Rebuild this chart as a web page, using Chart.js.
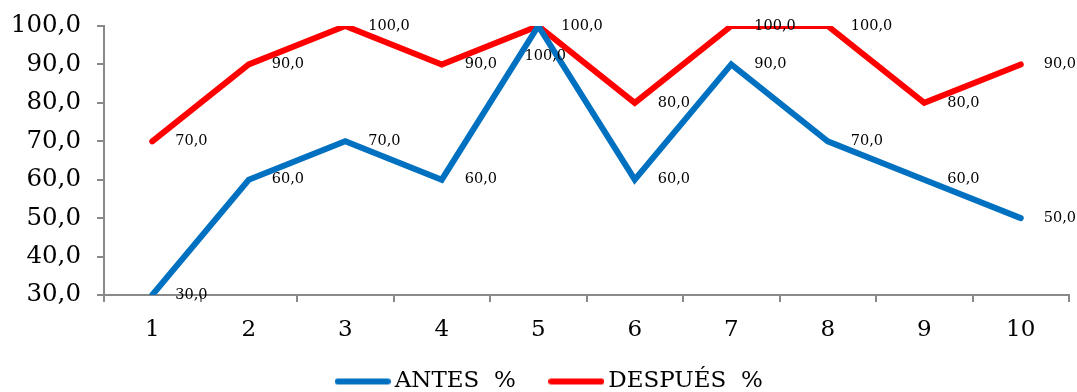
<!DOCTYPE html>
<html>
<head>
<meta charset="utf-8">
<script src="https://cdn.jsdelivr.net/npm/chart.js@4/dist/chart.umd.min.js"></script>
<style>
  html, body { margin: 0; padding: 0; background: #ffffff; }
  #chartDiv { width: 1077px; height: 392px; }
</style>
</head>
<body>
<div id="chartDiv"><canvas id="myChart"></canvas></div>
<script>
// DATA
var x_axis_labels = ['1', '2', '3', '4', '5', '6', '7', '8', '9', '10'];
var label_antes   = 'ANTES  %';
var label_despues = 'DESPUÉS  %';
var data_antes    = [30, 60, 70, 60, 100, 60, 90, 70, 60, 50];
var data_despues  = [70, 90, 100, 90, 100, 80, 100, 100, 80, 90];

var color_antes   = '#0070C0';
var color_despues = '#FF0000';
var axisColor = '#898989';
var serif = "'DejaVu Serif', serif";

function formatComma(v){
    return v.toFixed(1).replace('.', ',');
}

// small canvas with a thick rounded line, used as legend symbol
function legendLine(color){
    var c = document.createElement('canvas');
    c.width = 56;
    c.height = 10;
    var g = c.getContext('2d');
    g.strokeStyle = color;
    g.lineWidth = 6;
    g.lineCap = 'round';
    g.beginPath();
    g.moveTo(3, 5);
    g.lineTo(53, 5);
    g.stroke();
    return c;
}
var legendImages = [legendLine(color_antes), legendLine(color_despues)];

var pointLabels = {
    id: 'pointLabels',
    beforeInit: function(chart){
        // fixed legend height
        var origFit = chart.legend.fit;
        chart.legend.fit = function(){
            origFit.call(this);
            this.height = 47;
        };
    },
    afterLayout: function(chart){
        // push the legend under the axis labels, a bit to the right
        // (legend clips to its box, so let the box run to the bottom of the canvas)
        var lg = chart.legend;
        lg.top = chart.chartArea.bottom + 35;
        lg.bottom = chart.height;
        lg.left += 18;
        lg.right += 18;
    },
    // draws the value next to every point (right side), moves it below when both series share a point
    afterDatasetsDraw: function(chart){
        var ctx = chart.ctx;
        ctx.save();
        ctx.font = '14.5px ' + serif;
        ctx.fillStyle = '#000000';
        ctx.textBaseline = 'middle';
        chart.data.datasets.forEach(function(ds, di){
            var meta = chart.getDatasetMeta(di);
            meta.data.forEach(function(pt, i){
                var txt = formatComma(ds.data[i]);
                var other = chart.data.datasets[1 - di];
                if (di === 0 && other && other.data[i] === ds.data[i]) {
                    ctx.textAlign = 'center';
                    ctx.fillText(txt, pt.x + 7, pt.y + 30);
                } else {
                    ctx.textAlign = 'left';
                    ctx.fillText(txt, pt.x + 23, pt.y);
                }
            });
        });
        ctx.restore();
    }
};

var ctx = document.getElementById('myChart').getContext('2d');
var myChart = new Chart(ctx, {
    type: 'line',
    data: {
        labels: x_axis_labels,
        datasets: [{
            label: label_antes,
            data: data_antes,
            borderColor: color_antes,
            backgroundColor: color_antes,
            borderWidth: 6,
            borderCapStyle: 'round',
            borderJoinStyle: 'miter',
            pointRadius: 0,
            tension: 0
        },
        {
            label: label_despues,
            data: data_despues,
            borderColor: color_despues,
            backgroundColor: color_despues,
            borderWidth: 6,
            borderCapStyle: 'round',
            borderJoinStyle: 'miter',
            pointRadius: 0,
            tension: 0
        }]
    },
    options: {
        responsive: true,
        maintainAspectRatio: false,
        animation: false,
        layout: {
            padding: { left: 0, right: 8, top: 26, bottom: 0 }
        },
        plugins: {
            legend: {
                position: 'bottom',
                labels: {
                    usePointStyle: true,
                    pointStyleWidth: 41,
                    padding: 40,
                    color: '#000000',
                    font: { family: serif, size: 23 },
                    generateLabels: function(chart){
                        var items = Chart.defaults.plugins.legend.labels.generateLabels(chart);
                        items.forEach(function(it, i){ it.pointStyle = legendImages[i]; });
                        return items;
                    }
                }
            },
            tooltip: { enabled: false }
        },
        scales: {
            x: {
                offset: true,
                border: { color: axisColor, width: 2 },
                grid: {
                    offset: true,
                    drawOnChartArea: false,
                    color: axisColor,
                    lineWidth: 2,
                    tickLength: 7
                },
                ticks: {
                    color: '#000000',
                    padding: 14,
                    font: { family: serif, size: 23 }
                },
                afterFit: function(s){ s.height = 50; s.paddingLeft = 0; s.paddingRight = 0; }
            },
            y: {
                min: 30,
                max: 100,
                border: { color: axisColor, width: 2 },
                grid: {
                    drawOnChartArea: false,
                    color: axisColor,
                    lineWidth: 2,
                    tickLength: 7
                },
                ticks: {
                    stepSize: 10,
                    color: '#000000',
                    padding: 16,
                    font: { family: serif, size: 24.5 },
                    callback: function(v){ return formatComma(v); }
                },
                afterFit: function(s){ s.width = 104; s.paddingTop = 0; s.paddingBottom = 0; }
            }
        }
    },
    plugins: [pointLabels]
});
</script>
</body>
</html>
